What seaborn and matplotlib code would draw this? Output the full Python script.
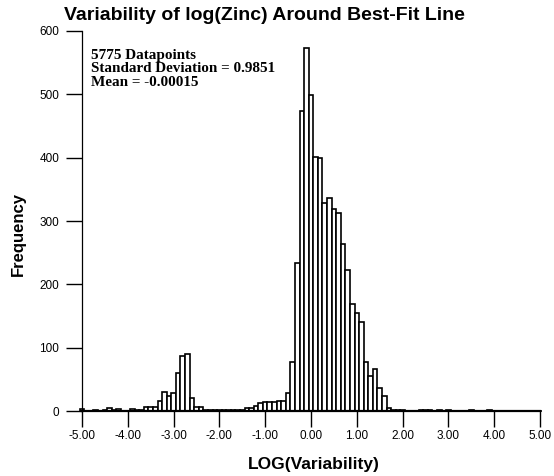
import numpy as np
import pandas as pd
import matplotlib
matplotlib.use("Agg")
import matplotlib.pyplot as plt
import seaborn as sns

# Bin centres of the histogram (LOG(Variability)), width 0.1
bin_centers = np.round(np.linspace(-5.0, 5.0, 101), 1)

# Frequency of each bin (-5.0 ... 5.0)
counts = [
    3, 0, 0, 1, 0, 1, 5, 1, 3, 0,            # -5.0 .. -4.1
    0, 3, 1, 1, 7, 7, 7, 16, 30, 24,         # -4.0 .. -3.1
    28, 60, 87, 90, 20, 7, 7, 2, 1, 1,       # -3.0 .. -2.1
    1, 1, 1, 1, 1, 2, 4, 5, 8, 12,           # -2.0 .. -1.1
    14, 15, 14, 16, 16, 29, 78, 233, 473, 573,  # -1.0 .. -0.1
    499, 401, 399, 329, 336, 319, 312, 264, 223, 169,  # 0.0 .. 0.9
    154, 140, 78, 55, 66, 37, 24, 5, 2, 1,   # 1.0 .. 1.9
    1, 0, 0, 0, 1, 2, 1, 0, 2, 0,            # 2.0 .. 2.9
    1, 0, 0, 0, 0, 1, 0, 0, 0, 1,            # 3.0 .. 3.9
    0, 0, 0, 0, 0, 0, 0, 0, 0, 0,            # 4.0 .. 4.9
    0,                                       # 5.0
]

x_ticks = [-5, -4, -3, -2, -1, 0, 1, 2, 3, 4, 5]
x_ticklabels = ["-5.00", "-4.00", "-3.00", "-2.00", "-1.00", "0.00",
                "1.00", "2.00", "3.00", "4.00", "5.00"]
y_ticks = [0, 100, 200, 300, 400, 500, 600]

title = "Variability of log(Zinc) Around Best-Fit Line"
stats_lines = ["5775 Datapoints", "Standard Deviation = 0.9851", "Mean = -0.00015"]

df = pd.DataFrame({"center": bin_centers, "count": counts})

sns.set_style("white")
plt.rcParams["font.family"] = ["Liberation Sans", "DejaVu Sans"]
plt.rcParams["text.color"] = "black"
plt.rcParams["axes.labelcolor"] = "black"

fig = plt.figure(figsize=(5.54, 4.76), dpi=100)
ax = fig.add_axes([82 / 554, 1 - 411 / 476, (540 - 82) / 554, (411 - 31) / 476])

sns.histplot(data=df, x="center", weights="count",
             binwidth=0.1, binrange=(-5.05, 5.05),
             color="white", edgecolor="black", linewidth=1.2, alpha=1.0,
             ax=ax)
for p in ax.patches:
    p.set_clip_on(False)

ax.set_xlim(-5.0, 5.0)
ax.set_ylim(0, 600)
ax.set_xticks(x_ticks)
ax.set_xticklabels(x_ticklabels)
ax.set_yticks(y_ticks)
ax.tick_params(axis="both", direction="out", length=11.5, width=1.0,
               color="black", labelsize=8.5, labelcolor="black",
               bottom=True, left=True)
ax.tick_params(axis="x", pad=2)
ax.tick_params(axis="y", pad=5)

for side in ["top", "right"]:
    ax.spines[side].set_visible(False)
for side in ["left", "bottom"]:
    ax.spines[side].set_color("black")
ax.spines["left"].set_linewidth(0.9)
ax.spines["bottom"].set_linewidth(1.6)

ax.set_xlabel("")
ax.set_ylabel("")
fig.text(314 / 554, 1 - 465 / 476, "LOG(Variability)", ha="center", va="center",
         fontsize=12.5, fontweight="bold")
fig.text(18 / 554, 1 - 234 / 476, "Frequency", ha="center", va="center",
         rotation=90, fontsize=12, fontweight="bold")
fig.text(264 / 554, 1 - 15 / 476, title, ha="center", va="center",
         fontsize=14, fontweight="bold")

for i, line in enumerate(stats_lines):
    fig.text(91 / 554, 1 - (55 + 14 * i) / 476, line,
             ha="left", va="center", fontsize=10.9, fontweight="bold",
             family=["Liberation Serif", "DejaVu Serif"])

fig.savefig("out.png", dpi=100)
